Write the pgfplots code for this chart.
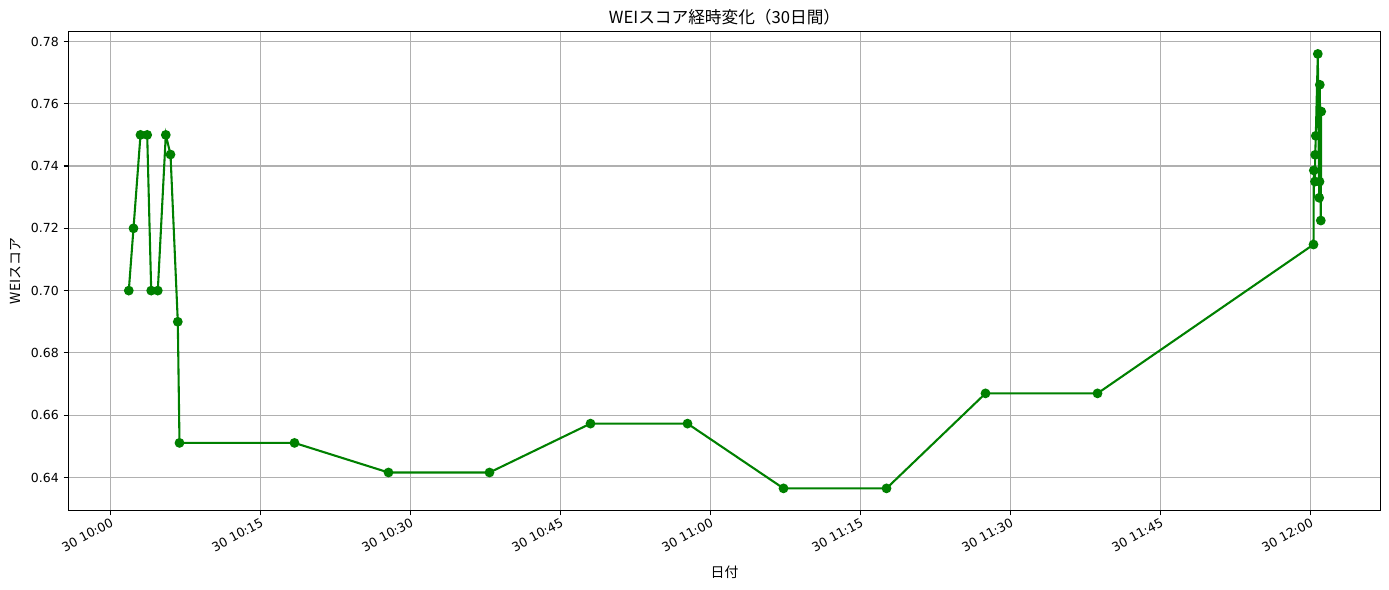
\documentclass[border=0pt]{standalone}
\usepackage{fontspec}
\setmainfont{Noto Sans CJK JP}
\newfontfamily\tickfont{DejaVu Sans}
\usepackage{pgfplots}
\pgfplotsset{compat=1.18}
\definecolor{mplgreen}{HTML}{008000}
\definecolor{gridgray}{HTML}{B0B0B0}
\newcommand{\tl}[1]{\mbox{\tickfont\fontsize{9}{11}\selectfont #1}}
\begin{document}
\begin{tikzpicture}
\path[use as bounding box] (-49.32pt,-57.24pt) rectangle (950.76pt,367.56pt);
\begin{axis}[
  scale only axis,
  width=944.64pt, height=344.88pt,
  xmin=-4.2, xmax=127,
  ymin=0.6294, ymax=0.7832,
  xtick={0,15,30,45,60,75,90,105,120},
  xticklabels={\tl{30 10:00},\tl{30 10:15},\tl{30 10:30},\tl{30 10:45},\tl{30 11:00},\tl{30 11:15},\tl{30 11:30},\tl{30 11:45},\tl{30 12:00}},
  ytick={0.64,0.66,0.68,0.70,0.72,0.74,0.76,0.78},
  /pgf/number format/fixed,
  /pgf/number format/fixed zerofill,
  /pgf/number format/precision=2,
  yticklabel={\tl{\pgfmathprintnumber[assume math mode=true]{\tick}}},
  xticklabel style={rotate=28, anchor=north east, inner sep=1pt},
  grid=major,
  major grid style={gridgray, line width=0.8pt},
  tick align=outside,
  tick pos=left,
  major tick length=3.5pt,
  major tick style={black, line width=0.8pt},
  axis line style={line width=0.8pt},
  every axis title shift=0pt,
  title={WEIスコア経時変化（30日間）},
  title style={at={(axis description cs:0.5,1.0167)}, anchor=base, inner sep=0pt, font=\fontsize{12}{14}\selectfont},
  xlabel={日付},
  xlabel style={at={(axis description cs:0.5,-0.1294)}, anchor=center, inner sep=0pt, font=\fontsize{10}{12}\selectfont},
  ylabel={WEIスコア},
  ylabel style={at={(axis description cs:-0.0404,0.5)}, anchor=center, rotate=0, inner sep=0pt, font=\fontsize{10}{12}\selectfont},
]
\addplot[mplgreen, line width=1.5pt, mark=*, mark size=3pt, mark options={fill=mplgreen, draw=mplgreen, line width=1pt}] coordinates {
(1.83,0.700)
(2.30,0.720)
(3.00,0.750)
(3.67,0.750)
(4.07,0.700)
(4.73,0.700)
(5.53,0.750)
(6.00,0.7437)
(6.73,0.690)
(6.90,0.6511)
(18.4,0.6511)
(27.8,0.6416)
(37.9,0.6416)
(48.0,0.6573)
(57.7,0.6573)
(67.3,0.6365)
(77.6,0.6365)
(87.5,0.6670)
(98.7,0.6670)
(120.30,0.7148)
(120.33,0.7386)
(120.45,0.7350)
(120.47,0.7436)
(120.53,0.7497)
(120.73,0.7760)
(120.87,0.7298)
(120.90,0.7350)
(120.93,0.7661)
(121.03,0.7225)
(121.07,0.7575)
};
\end{axis}
\end{tikzpicture}
\end{document}
